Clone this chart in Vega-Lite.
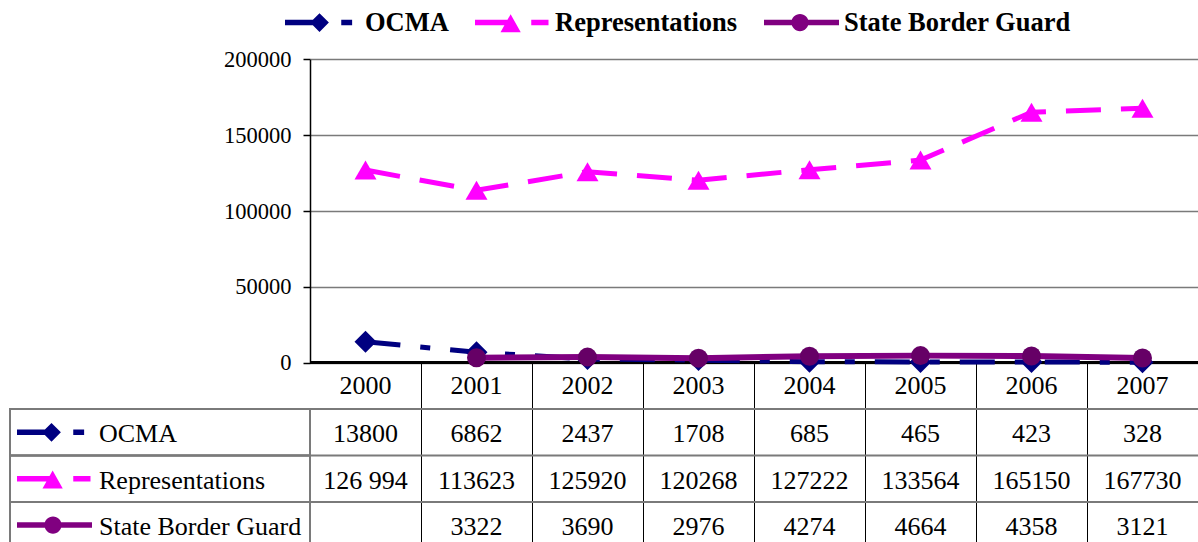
{
  "$schema": "https://vega.github.io/schema/vega-lite/v6.json",
  "width": 1198,
  "height": 542,
  "autosize": {"type": "none"},
  "padding": 0,
  "background": "white",
  "config": {
    "view": {"stroke": null},
    "font": "Liberation Serif",
    "axis": {"labelFont": "Liberation Serif"},
    "text": {"font": "Liberation Serif", "fontSize": 26, "color": "black"}
  },
  "datasets": {
    "counts": [
      {"year": 2000, "series": "OCMA", "value": 13800, "label": "13800"},
      {"year": 2001, "series": "OCMA", "value": 6862, "label": "6862"},
      {"year": 2002, "series": "OCMA", "value": 2437, "label": "2437"},
      {"year": 2003, "series": "OCMA", "value": 1708, "label": "1708"},
      {"year": 2004, "series": "OCMA", "value": 685, "label": "685"},
      {"year": 2005, "series": "OCMA", "value": 465, "label": "465"},
      {"year": 2006, "series": "OCMA", "value": 423, "label": "423"},
      {"year": 2007, "series": "OCMA", "value": 328, "label": "328"},
      {"year": 2000, "series": "Representations", "value": 126994, "label": "126 994"},
      {"year": 2001, "series": "Representations", "value": 113623, "label": "113623"},
      {"year": 2002, "series": "Representations", "value": 125920, "label": "125920"},
      {"year": 2003, "series": "Representations", "value": 120268, "label": "120268"},
      {"year": 2004, "series": "Representations", "value": 127222, "label": "127222"},
      {"year": 2005, "series": "Representations", "value": 133564, "label": "133564"},
      {"year": 2006, "series": "Representations", "value": 165150, "label": "165150"},
      {"year": 2007, "series": "Representations", "value": 167730, "label": "167730"},
      {"year": 2000, "series": "State Border Guard", "value": null, "label": ""},
      {"year": 2001, "series": "State Border Guard", "value": 3322, "label": "3322"},
      {"year": 2002, "series": "State Border Guard", "value": 3690, "label": "3690"},
      {"year": 2003, "series": "State Border Guard", "value": 2976, "label": "2976"},
      {"year": 2004, "series": "State Border Guard", "value": 4274, "label": "4274"},
      {"year": 2005, "series": "State Border Guard", "value": 4664, "label": "4664"},
      {"year": 2006, "series": "State Border Guard", "value": 4358, "label": "4358"},
      {"year": 2007, "series": "State Border Guard", "value": 3121, "label": "3121"}
    ]
  },
  "data": {"name": "counts"},
  "layer": [
    {
      "layer": [
        {
          "mark": {"type": "rect", "fill": null, "stroke": "black", "strokeWidth": 1},
          "encoding": {
            "x": {"field": "year", "type": "quantitative", "bin": {"step": 1, "anchor": 1999.5}, "scale": {"domain": [1999.5, 2007.5], "range": [310, 1198], "nice": false, "zero": false}, "axis": null},
            "y": {"field": "series", "type": "nominal", "scale": {"domain": ["Year", "OCMA", "Representations", "State Border Guard"], "range": [362.7, 548.3], "paddingInner": 0, "paddingOuter": 0}, "axis": null}
          }
        },
        {
          "transform": [{"filter": "datum.series === 'OCMA'"}],
          "mark": {"type": "rect", "fill": null, "stroke": "black", "strokeWidth": 1},
          "encoding": {
            "x": {"field": "year", "type": "quantitative", "bin": {"step": 1, "anchor": 1999.5}, "axis": null},
            "y": {"datum": "Year", "type": "nominal"}
          }
        },
        {
          "transform": [{"filter": "datum.year === 2000"}],
          "mark": {"type": "rect", "fill": null, "stroke": "#7a7a7a", "strokeWidth": 2},
          "encoding": {
            "x": {"datum": 1996.7973, "type": "quantitative"},
            "x2": {"datum": 1999.5},
            "y": {"field": "series", "type": "nominal"}
          }
        },
        {
          "transform": [{"filter": "datum.year === 2000"}],
          "mark": {"type": "rule", "stroke": "#7a7a7a", "strokeWidth": 2},
          "encoding": {
            "x": {"datum": 1996.7973, "type": "quantitative"},
            "x2": {"datum": 2007.5},
            "y": {"field": "series", "type": "nominal", "bandPosition": 0}
          }
        },
        {
          "transform": [{"filter": "datum.series === 'OCMA'"}],
          "mark": {"type": "text", "align": "center", "baseline": "middle"},
          "encoding": {
            "x": {"field": "year", "type": "quantitative"},
            "y": {"datum": "Year", "type": "nominal"},
            "text": {"field": "year", "type": "nominal"}
          }
        },
        {
          "mark": {"type": "text", "align": "center", "baseline": "middle", "dy": 2},
          "encoding": {
            "x": {"field": "year", "type": "quantitative"},
            "y": {"field": "series", "type": "nominal"},
            "text": {"field": "label", "type": "nominal"}
          }
        },
        {
          "transform": [{"filter": "datum.year === 2000"}],
          "mark": {"type": "text", "align": "left", "baseline": "middle", "dy": 2},
          "encoding": {
            "x": {"datum": 1997.5991, "type": "quantitative"},
            "y": {"field": "series", "type": "nominal"},
            "text": {"field": "series", "type": "nominal"}
          }
        },
        {
          "transform": [{"filter": "datum.year === 2000"}],
          "mark": {"type": "point", "filled": true, "opacity": 1, "size": 5625, "strokeWidth": 0},
          "encoding": {
            "x": {"datum": 1997.1982, "type": "quantitative"},
            "y": {"field": "series", "type": "nominal"},
            "color": {
              "field": "series", "type": "nominal",
              "scale": {"domain": ["OCMA", "Representations", "State Border Guard"], "range": ["#000080", "#FF00FF", "#800080"]},
              "legend": {"title": null, "orient": "none", "legendX": 285, "legendY": -15, "direction": "horizontal", "labelFont": "Liberation Serif", "labelFontSize": 26.5, "labelFontWeight": "bold", "labelColor": "black", "labelLimit": 0, "labelOffset": 5, "columnPadding": 26, "symbolSize": 5625, "symbolOpacity": 1, "symbolStrokeWidth": 0}
            },
            "shape": {
              "field": "series", "type": "nominal",
              "scale": {
                "domain": ["OCMA", "Representations", "State Border Guard"],
                "range": [
                  "M-1,-0.073L-0.08,-0.073L-0.08,0.073L-1,0.073ZM-0.33,0L-0.08,-0.25L0.17,0L-0.08,0.25ZM0.5,-0.073L0.79,-0.073L0.79,0.073L0.5,0.073Z",
                  "M-1,-0.073L-0.05,-0.073L-0.05,0.073L-1,0.073ZM-0.05,-0.22L0.22,0.26L-0.32,0.26ZM0.5,-0.073L0.96,-0.073L0.96,0.073L0.5,0.073Z",
                  "M-1,-0.073L1,-0.073L1,0.073L-1,0.073ZM-0.27,0A0.23,0.23,0,1,1,0.19,0A0.23,0.23,0,1,1,-0.27,0Z"
                ]
              },
              "legend": {"title": null, "orient": "none", "legendX": 285, "legendY": -15, "direction": "horizontal", "labelFont": "Liberation Serif", "labelFontSize": 26.5, "labelFontWeight": "bold", "labelColor": "black", "labelLimit": 0, "labelOffset": 5, "columnPadding": 26, "symbolSize": 5625, "symbolOpacity": 1, "symbolStrokeWidth": 0}
            }
          }
        }
      ]
    },
    {
      "layer": [
        {
          "mark": {"type": "rule", "stroke": "black", "strokeWidth": 2},
          "encoding": {
            "x": {"datum": 1999.5, "type": "quantitative"},
            "x2": {"datum": 2007.5},
            "y": {
              "datum": 0, "type": "quantitative",
              "scale": {"domain": [0, 200000], "range": [362.7, 59.3], "nice": false, "zero": true},
              "axis": {
                "orient": "left", "offset": -310, "values": [0, 50000, 100000, 150000, 200000], "format": "d",
                "title": null, "domain": true, "domainColor": "black", "domainWidth": 1.5,
                "ticks": true, "tickSize": 7, "tickColor": "black", "tickWidth": 1.5,
                "grid": true, "gridColor": "#7a7a7a", "gridWidth": 1.5,
                "labelFont": "Liberation Serif", "labelFontSize": 22.5, "labelColor": "black", "labelPadding": 12
              }
            }
          }
        },
        {
          "transform": [{"filter": "datum.series === 'OCMA'"}],
          "mark": {"type": "line", "color": "#000080", "strokeWidth": 5, "strokeDash": [35, 20, 10, 20]},
          "encoding": {
            "x": {"field": "year", "type": "quantitative"},
            "y": {"field": "value", "type": "quantitative"}
          }
        },
        {
          "transform": [{"filter": "datum.series === 'OCMA'"}],
          "mark": {"type": "point", "shape": "diamond", "filled": true, "opacity": 1, "color": "#000080", "size": 484},
          "encoding": {
            "x": {"field": "year", "type": "quantitative"},
            "y": {"field": "value", "type": "quantitative"}
          }
        },
        {
          "transform": [{"filter": "datum.series === 'Representations'"}],
          "mark": {"type": "line", "color": "#FF00FF", "strokeWidth": 5, "strokeDash": [35, 20]},
          "encoding": {
            "x": {"field": "year", "type": "quantitative"},
            "y": {"field": "value", "type": "quantitative"}
          }
        },
        {
          "transform": [{"filter": "datum.series === 'Representations'"}],
          "mark": {"type": "point", "shape": "triangle-up", "filled": true, "opacity": 1, "color": "#FF00FF", "size": 484},
          "encoding": {
            "x": {"field": "year", "type": "quantitative"},
            "y": {"field": "value", "type": "quantitative"}
          }
        },
        {
          "transform": [{"filter": "datum.series === 'State Border Guard' && datum.value != null"}],
          "mark": {"type": "line", "color": "#800080", "strokeWidth": 6},
          "encoding": {
            "x": {"field": "year", "type": "quantitative"},
            "y": {"field": "value", "type": "quantitative"}
          }
        },
        {
          "transform": [{"filter": "datum.series === 'State Border Guard' && datum.value != null"}],
          "mark": {"type": "point", "shape": "circle", "filled": true, "opacity": 1, "color": "#660066", "size": 361},
          "encoding": {
            "x": {"field": "year", "type": "quantitative"},
            "y": {"field": "value", "type": "quantitative"}
          }
        }
      ]
    }
  ],
  "resolve": {"scale": {"y": "independent"}}
}
